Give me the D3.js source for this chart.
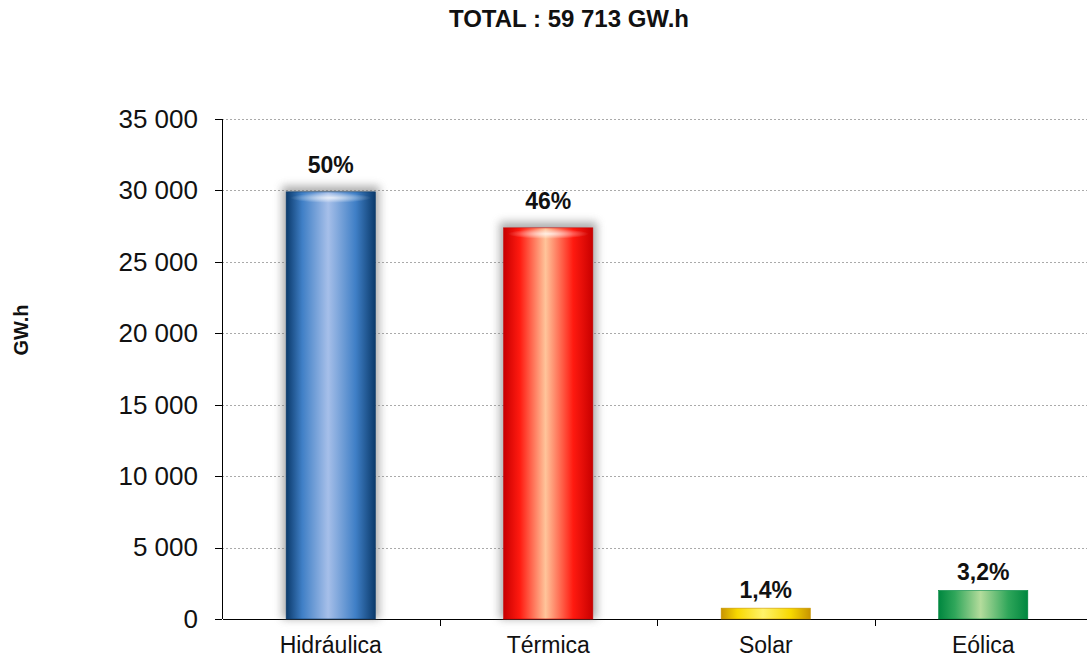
<!DOCTYPE html>
<meta charset="utf-8">
<style>
body { margin: 0; background: #fff; font-family: "Liberation Sans", Arial, sans-serif; }
.axis path, .axis line { stroke: #000; shape-rendering: crispEdges; }
.grid line { stroke: #aaa; stroke-dasharray: 2,2; shape-rendering: crispEdges; }
</style>
<body>
<script src="https://cdn.jsdelivr.net/npm/d3@7"></script>
<script>

// chart data
var categories = ["Hidráulica", "Térmica", "Solar", "Eólica"];
var values = [29900, 27380, 760, 2000];
var pctLabels = ["50%", "46%", "1,4%", "3,2%"];
var yTicks = [0, 5000, 10000, 15000, 20000, 25000, 30000, 35000];
var titleText = "TOTAL : 59 713 GW.h";
var yTitle = "GW.h";

// gradient stops per bar: edge, mid, center
var colours = [
  ["#0b3a6b", "#3f7fc6", "#a6bfe9"],
  ["#c80000", "#ff1a10", "#ffc49a"],
  ["#c89400", "#f7d800", "#fff36a"],
  ["#00873f", "#2fa65a", "#b4dc9c"]
];

var W = 1087, H = 659;
var margin = {top: 119, left: 222, bottom: 40, right: -5};
var width = W - margin.left - margin.right,
    height = H - margin.top - margin.bottom;

var svg = d3.select("body").append("svg")
  .attr("width", W).attr("height", H);

var defs = svg.append("defs");
colours.forEach(function(c, i) {
  var g = defs.append("linearGradient").attr("id", "grad" + i)
    .attr("x1", "0%").attr("x2", "100%").attr("y1", "0%").attr("y2", "0%");
  g.append("stop").attr("offset", "0%").attr("stop-color", c[0]);
  g.append("stop").attr("offset", "18%").attr("stop-color", c[1]);
  g.append("stop").attr("offset", "47%").attr("stop-color", c[2]);
  g.append("stop").attr("offset", "78%").attr("stop-color", c[1]);
  g.append("stop").attr("offset", "100%").attr("stop-color", c[0]);
});
var topGrad = defs.append("radialGradient").attr("id", "topHi");
topGrad.append("stop").attr("offset", "0%").attr("stop-color", "#fff").attr("stop-opacity", 0.75);
topGrad.append("stop").attr("offset", "100%").attr("stop-color", "#fff").attr("stop-opacity", 0);
var shadow = defs.append("filter").attr("id", "shadow")
  .attr("x", "-30%").attr("y", "-30%").attr("width", "160%").attr("height", "160%");
shadow.append("feGaussianBlur").attr("stdDeviation", 4);

svg.append("text")
  .attr("x", 569).attr("y", 27)
  .attr("text-anchor", "middle")
  .style("font-weight", "bold").style("font-size", "24px").style("fill", "#111")
  .text(titleText);

svg.append("text")
  .attr("transform", "translate(28,330) rotate(-90)")
  .attr("text-anchor", "middle")
  .style("font-weight", "bold").style("font-size", "20px").style("fill", "#111")
  .text(yTitle);

var g = svg.append("g").attr("transform", "translate(" + margin.left + "," + margin.top + ")");

var x = d3.scaleBand().domain(categories).range([0, width]).paddingInner(0.59).paddingOuter(0.295);
var bandX = d3.scaleBand().domain(categories).range([0, width]);
var y = d3.scaleLinear().domain([0, 35000]).range([height, 0]);

var fmt = function(d) { return d3.format(",")(d).replace(/,/g, " "); };

// grid
g.append("g").attr("class", "grid")
  .selectAll("line").data(yTicks.slice(1)).enter().append("line")
  .attr("x1", 0).attr("x2", width)
  .attr("y1", function(d) { return Math.round(y(d)); })
  .attr("y2", function(d) { return Math.round(y(d)); });

// y axis
var yAxis = g.append("g").attr("class", "axis")
  .call(d3.axisLeft(y).tickValues(yTicks).tickFormat(fmt).tickSize(7).tickPadding(17));
yAxis.select(".domain").attr("d", "M0," + height + "V0");
yAxis.selectAll("text").style("font-size", "26px").style("fill", "#111")
  .attr("font-family", "Liberation Sans, Arial, sans-serif");

// x axis
var xAxis = g.append("g").attr("class", "axis")
  .attr("transform", "translate(0," + height + ")")
  .call(d3.axisBottom(bandX).tickSize(0).tickPadding(18));
xAxis.selectAll("text").style("font-size", "23px").style("fill", "#111")
  .attr("font-family", "Liberation Sans, Arial, sans-serif");
xAxis.selectAll(".sep").data(categories.slice(1)).enter().append("line")
  .attr("class", "sep")
  .attr("x1", function(d) { return Math.round(bandX(d)); })
  .attr("x2", function(d) { return Math.round(bandX(d)); })
  .attr("y1", 0).attr("y2", 7);

var data = categories.map(function(c, i) { return {cat: c, v: values[i], pct: pctLabels[i], i: i}; });

var bars = g.selectAll(".bar").data(data).enter().append("g").attr("class", "bar");

// soft shadow behind big bars
bars.filter(function(d) { return d.v > 5000; }).append("rect")
  .attr("x", function(d) { return x(d.cat) - 4; })
  .attr("y", function(d) { return y(d.v) - 6; })
  .attr("width", x.bandwidth() + 8)
  .attr("height", function(d) { return height - y(d.v) + 6; })
  .attr("fill", "#777").attr("opacity", 0.6)
  .attr("filter", "url(#shadow)");

bars.append("rect")
  .attr("x", function(d) { return x(d.cat); })
  .attr("y", function(d) { return y(d.v); })
  .attr("width", x.bandwidth())
  .attr("height", function(d) { return height - y(d.v); })
  .attr("fill", function(d) { return "url(#grad" + d.i + ")"; })
  .attr("stroke", function(d) { return colours[d.i][0]; })
  .attr("stroke-width", 0.6);

// top highlight
bars.filter(function(d) { return d.v > 5000; }).append("ellipse")
  .attr("cx", function(d) { return x(d.cat) + x.bandwidth() / 2; })
  .attr("cy", function(d) { return y(d.v) + 6; })
  .attr("rx", x.bandwidth() / 2 - 4)
  .attr("ry", 5)
  .attr("fill", "url(#topHi)");

bars.append("text")
  .attr("x", function(d) { return x(d.cat) + x.bandwidth() / 2; })
  .attr("y", function(d) { return y(d.v) - (d.v > 5000 ? 19 : 10); })
  .attr("text-anchor", "middle")
  .style("font-weight", "bold").style("font-size", "23px").style("fill", "#111")
  .text(function(d) { return d.pct; });

</script>
